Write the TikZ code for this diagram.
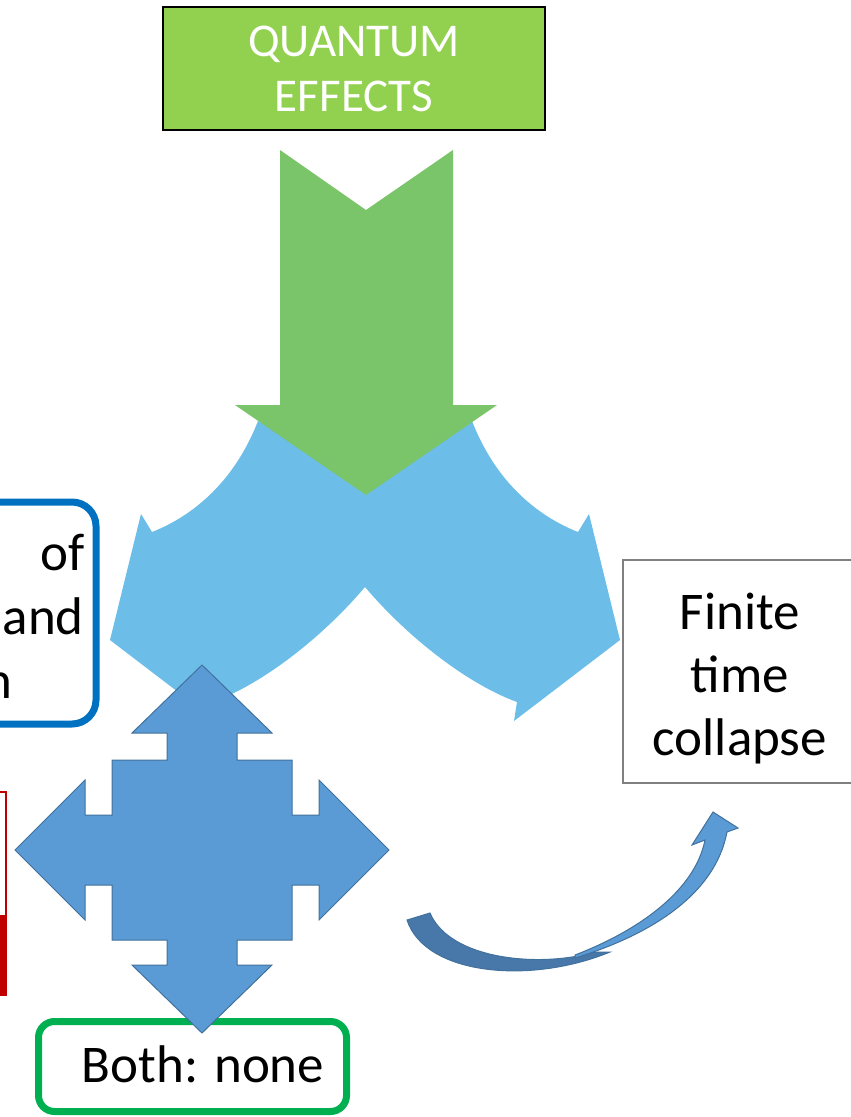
\documentclass[tikz,border=0pt]{standalone}
\usepackage{fontspec}
\setmainfont{Carlito}
\usetikzlibrary{shadows}
\definecolor{qgreen}{RGB}{146,208,80}
\definecolor{arrowgreen}{RGB}{122,196,106}
\definecolor{splitblue}{RGB}{108,189,232}
\definecolor{quadblue}{RGB}{91,155,213}
\definecolor{quadedge}{RGB}{65,113,156}
\definecolor{curvedark}{RGB}{72,120,170}
\definecolor{boxblue}{RGB}{0,112,192}
\definecolor{boxgreen}{RGB}{0,176,80}
\definecolor{boxred}{RGB}{192,0,0}
\tikzstyle{bigtext}=[font=\fontsize{53}{63}\selectfont, inner sep=0pt]
\tikzstyle{roundbox}=[draw, line width=7pt, rounded corners=24pt, fill=white,
  drop shadow={opacity=0.25, shadow xshift=2pt, shadow yshift=-2pt}]
\tikzstyle{arrowshape}=[draw=quadedge, line width=1pt]

\begin{document}
\begin{tikzpicture}[x=1pt, y=-1pt]
	\useasboundingbox (0,0) rectangle (851,1117);
	\clip (0,0) rectangle (851,1117);

	% split arrow
	\fill[splitblue] (258,421) .. controls (235,480) and (195,515) .. (152,532)
		-- (141,514) -- (110,640) -- (216,721) -- (213,702)
		.. controls (260,685) and (320,640) .. (365,587)
		.. controls (410,640) and (470,685) .. (517,702)
		-- (514,721) -- (620,640) -- (589,514) -- (578,532)
		.. controls (535,515) and (495,480) .. (472,421) -- (365,480) -- cycle;

	% arrow from the top box
	\fill[arrowgreen] (280,150) -- (366,210) -- (453,150) -- (453,405) -- (497,405)
		-- (366,495) -- (235,405) -- (280,405) -- cycle;

	\node[draw=black, line width=2pt, fill=qgreen, text=white, minimum width=382pt,
		minimum height=123pt, align=center, font=\fontsize{47}{55}\selectfont]
		(quantum) at (354,68.5) {QUANTUM\\EFFECTS};

	% boxes at the left
	\node[roundbox, draw=boxblue, minimum width=160pt, minimum height=222pt]
		(rulebox) at (16,613) {};
	\node[bigtext, anchor=base east] (oftxt) at (85,570) {of};
	\node[bigtext, anchor=base east] (andtxt) at (84,634) {and};
	\node[bigtext, anchor=base east] (ntxt) at (13,698) {n};

	\node[draw=boxred, line width=2pt, minimum width=40pt, minimum height=203pt]
		(redbox) at (-14,893.5) {};
	\node[fill=boxred, minimum width=40pt, minimum height=80pt, inner sep=0pt]
		(redbar) at (-13,955) {};

	\node[roundbox, draw=boxgreen, rounded corners=16pt, minimum width=308pt,
		minimum height=90pt] (bothbox) at (192.5,1066.5) {};
	\node[bigtext, anchor=base] (bothtxt) at (203,1082) {Both: none};

	% four way arrow
	\draw[arrowshape, fill=quadblue, shift={(202,850)}]
		(0,-185) -- (70,-117) -- (35,-117) -- (35,-90) -- (90,-90) -- (90,-35)
		-- (117,-35) -- (117,-70) -- (187,0) -- (117,70) -- (117,35) -- (90,35)
		-- (90,90) -- (35,90) -- (35,115) -- (70,115) -- (0,183) -- (-70,115)
		-- (-35,115) -- (-35,90) -- (-90,90) -- (-90,35) -- (-117,35) -- (-117,70)
		-- (-187,0) -- (-117,-70) -- (-117,-35) -- (-90,-35) -- (-90,-90)
		-- (-35,-90) -- (-35,-117) -- (-70,-117) -- cycle;

	% box at the right
	\node[draw=gray, line width=2pt, fill=white, minimum width=234pt,
		minimum height=223pt] (finite) at (740,671.5) {};
	\node[bigtext, align=center, anchor=base] (finitetxt) at (740,755)
		{Finite\\time\\collapse};

	% curved arrow
	\draw[arrowshape, fill=curvedark] (407,920) .. controls (425,975) and (530,985) .. (610,952)
		-- (595,952) .. controls (540,968) and (450,960) .. (430,913) -- cycle;
	\draw[arrowshape, fill=quadblue] (575,958) .. controls (650,935) and (715,895) .. (727,832)
		-- (738,828) -- (713,812) -- (692,845) -- (705,840)
		.. controls (695,890) and (640,930) .. (575,955) -- cycle;
\end{tikzpicture}
\end{document}
